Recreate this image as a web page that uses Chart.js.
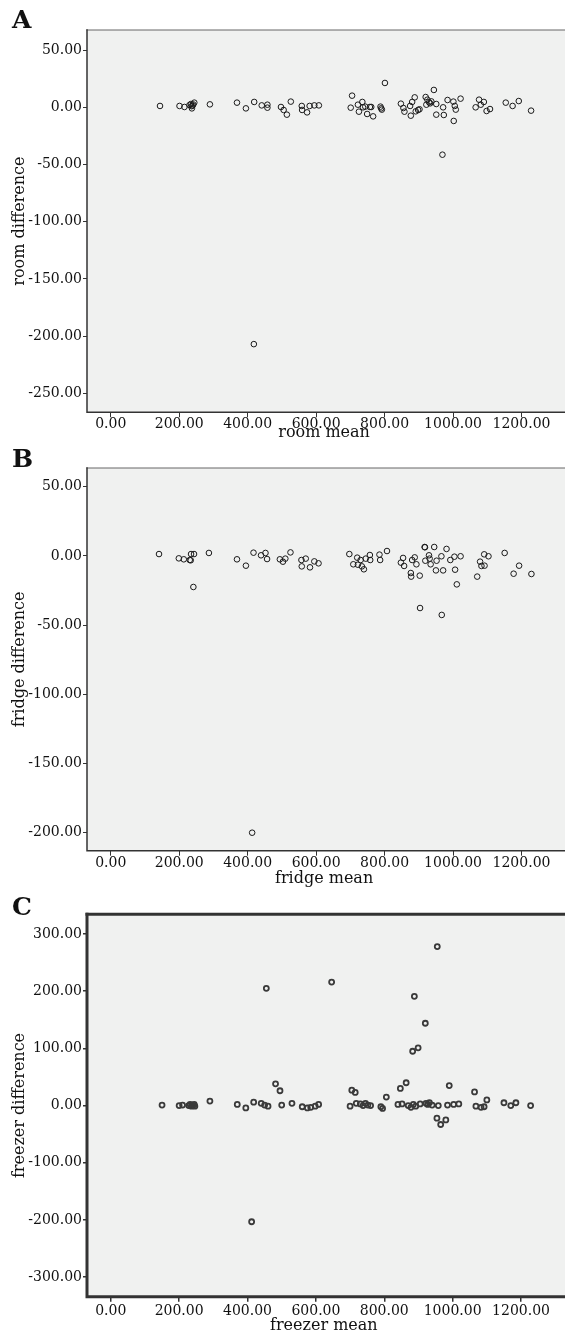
<!DOCTYPE html>
<html><head><meta charset="utf-8">
<script src="https://cdn.jsdelivr.net/npm/chart.js@4.4.1/dist/chart.umd.min.js"></script>
<style>
html,body{margin:0;padding:0;background:#fff;overflow:hidden;width:565px;height:1336px;position:relative;}
canvas{position:absolute;left:0;}
</style></head><body>
<canvas id="cA" width="565" height="442" style="top:0px"></canvas>
<canvas id="cB" width="565" height="446" style="top:442px"></canvas>
<canvas id="cC" width="565" height="447" style="top:888px"></canvas>
<script>
// ---- tick labels ----
const xTicks = [0, 200, 400, 600, 800, 1000, 1200];
const roomYTicks = [50, 0, -50, -100, -150, -200, -250];
const fridgeYTicks = [50, 0, -50, -100, -150, -200];
const freezerYTicks = [300, 200, 100, 0, -100, -200, -300];

// ---- panel A: room ----
const roomMean = [143.8,200.8,215.2,230,234,236,237,239,241,244,289.6,368.7,394.8,418,419,441,457.6,457.6,497.2,505,514.5,526,558,559,573.5,581,594.7,608,701,705,722,725,735,737,743.5,749,757,761,766.5,788,790,792,801,847.6,855,858,874.6,876.6,880.5,888,891,898,902,920,922,925,930,933,936.5,944,951,951,971,973,969,984,1001,1002,1005,1008,1022,1066,1076,1081,1090,1098,1108,1154,1174,1192,1228];
const roomDiff = [1.2,1.2,0.3,2.0,2.9,1.0,-0.9,1.5,2.5,4.1,2.6,4.1,-0.9,-207,4.7,1.7,2.3,-0.3,0.3,-2.3,-6.4,5.0,1.2,-2.3,-4.4,1.2,1.7,1.7,-0.3,10.2,2.3,-3.8,4.7,0,0.6,-5.8,0.3,0.3,-7.9,0.6,-0.9,-2.0,21.3,3.2,-0.6,-3.8,1.2,-7.3,4.7,8.7,-3.5,-2.3,-1.7,9.0,2.3,6.7,4.4,3.5,5.2,15.2,2.9,-6.4,0,-6.7,-41.4,6.4,5.0,-11.9,1.2,-2.0,7.6,0,6.7,2.3,4.7,-3.2,-1.5,4.1,1.2,5.5,-2.9];

// ---- panel B: fridge ----
const fridgeMean = [140.9,198.8,213.3,230.7,233.6,234.5,243.2,241.3,286.7,368.7,394.8,413,417,439,452,456.6,494,503,510,525,557,558,569.6,582,594.7,607,697,708.6,720,722,730,733.7,739.5,745,757,758,785,787,807,847.6,854,857,876.6,877.6,880.5,888,893,902.7,903.6,917,918,919,929.7,931.6,934.5,945,950,951.9,966,967,971,981,992,1004,1006,1011,1022,1070.6,1079,1083,1091,1092,1103.5,1150.8,1177,1193,1229];
const fridgeDiff = [1.4,-1.7,-2.4,-2.9,-3.1,1.4,1.4,-22.4,2.2,-2.4,-7.0,-200,2.4,0.5,2.2,-2.2,-2.4,-4.1,-1.9,2.6,-2.9,-7.5,-1.9,-8.2,-3.9,-5.3,1.4,-6.0,-1.2,-6.3,-2.9,-7.5,-9.6,-1.9,0.7,-2.9,1.0,-2.9,3.6,-4.8,-1.4,-7.2,-12.3,-14.9,-2.9,-1.0,-6.0,-14.2,-37.6,6.5,6.3,-3.4,0.5,-1.9,-6.0,6.5,-10.4,-3.4,-0.2,-42.6,-10.4,5.1,-2.9,-0.5,-9.9,-20.5,-0.2,-14.9,-4.1,-7.2,1.2,-7.0,-0.2,2.2,-12.8,-7.0,-13.0];

// ---- panel C: freezer ----
const freezerMean = [150,200,210,228,232,236,238,240,244,246,290,370,395,412,418,440,450,455,460,482,495,500,530,560,575,585,598,608,646,700,705,715,718,730,738,745,752,760,790,795,806,840,847,852,864,870,878,883,885,888,892,899,905,920,922,927,932,940,954,955,958,965,980,985,990,1003,1018,1064,1068,1083,1092,1100,1150,1170,1185,1228];
const freezerDiff = [1,0,1,0,2,-1,1,0,2,-1,8,2,-4,-203,6,4,1,205,-1,38,26,1,4,-2,-4,-3,-1,2,216,-1,27,23,4,3,0,4,1,0,-2,-5,15,2,30,3,40,0,-3,95,2,191,-1,101,3,144,4,2,5,1,-22,278,0,-33,-25,1,35,2,3,24,-1,-3,-2,10,5,0,5,0];

const SERIF = '"DejaVu Serif", "Liberation Serif", serif';

const decor = {
  id: 'decor',
  beforeDraw(chart, args, o) {
    const {ctx, chartArea: a} = chart;
    ctx.save();
    ctx.fillStyle = o.bg;
    ctx.fillRect(a.left, a.top, a.right - a.left + 5, a.bottom - a.top);
    ctx.restore();
  },
  afterDraw(chart, args, o) {
    const {ctx, chartArea: a} = chart;
    ctx.save();
    ctx.lineCap = 'square';
    ctx.strokeStyle = o.topColor; ctx.lineWidth = o.topWidth;
    ctx.beginPath(); ctx.moveTo(a.left, a.top); ctx.lineTo(a.right + 10, a.top); ctx.stroke();
    ctx.strokeStyle = o.axisColor; ctx.lineWidth = o.axisWidth;
    ctx.beginPath(); ctx.moveTo(a.left, a.top); ctx.lineTo(a.left, a.bottom); ctx.lineTo(a.right + 10, a.bottom); ctx.stroke();
    ctx.fillStyle = '#111';
    ctx.font = 'bold 25px ' + SERIF;
    ctx.textAlign = 'left'; ctx.textBaseline = 'alphabetic';
    ctx.fillText(o.letter, 12, o.letterY);
    ctx.restore();
  }
};

function makeChart(id, xs, ys, yTicks, cfg) {
  const pts = xs.map((x, i) => ({x: x, y: ys[i]}));
  return new Chart(document.getElementById(id), {
    type: 'scatter',
    data: { datasets: [{
      data: pts,
      pointStyle: 'circle',
      pointRadius: cfg.r,
      pointHoverRadius: cfg.r,
      borderWidth: cfg.bw,
      borderColor: cfg.pc,
      backgroundColor: 'rgba(0,0,0,0)'
    }]},
    options: {
      responsive: false,
      animation: false,
      devicePixelRatio: 1,
      layout: { padding: { top: cfg.padTop, left: 0, right: 0, bottom: 0 } },
      plugins: {
        legend: { display: false },
        tooltip: { enabled: false },
        decor: { bg: '#f0f1f0', letter: cfg.letter, letterY: cfg.letterY,
                 topColor: cfg.topColor, topWidth: cfg.topWidth,
                 axisColor: cfg.axisColor, axisWidth: cfg.axisWidth }
      },
      scales: {
        x: {
          type: 'linear', min: -69.5, max: 1316,
          afterBuildTicks: s => { s.ticks = xTicks.map(v => ({value: v})); },
          afterFit: s => { s.height = cfg.xH; },
          ticks: { font: {family: SERIF, size: 14}, color: '#111', padding: cfg.xPad,
                   maxRotation: 0, autoSkip: false, callback: v => Number(v).toFixed(2) },
          grid: { display: true, drawOnChartArea: false, drawTicks: true, tickLength: 5,
                  color: cfg.tickColor, lineWidth: cfg.tickW },
          border: { display: false },
          title: { display: true, text: cfg.xTitle, font: {family: SERIF, size: 16}, color: '#111',
                   padding: {top: 0, bottom: 0} }
        },
        y: {
          type: 'linear', min: cfg.yMin, max: cfg.yMax,
          afterBuildTicks: s => { s.ticks = yTicks.map(v => ({value: v})); },
          afterFit: s => { s.width = 87; },
          ticks: { font: {family: SERIF, size: 14}, color: '#111', padding: 1,
                   autoSkip: false, callback: v => Number(v).toFixed(2) },
          grid: { display: true, drawOnChartArea: false, drawTicks: true, tickLength: 4,
                  color: cfg.tickColor, lineWidth: cfg.tickW },
          border: { display: false },
          title: { display: true, text: cfg.yTitle, font: {family: SERIF, size: 16}, color: '#111',
                   padding: {top: 10.4, bottom: 0} }
        }
      }
    },
    plugins: [decor]
  });
}

makeChart('cA', roomMean, roomDiff, roomYTicks, {
  letter: 'A', letterY: 28, padTop: 30, xH: 29.7, xPad: -1.5,
  yMin: -266.6, yMax: 67.6, xTitle: 'room mean', yTitle: 'room difference',
  r: 2.8, bw: 1, pc: '#1a1a1a', tickColor: '#333', tickW: 1,
  topColor: '#666', topWidth: 1, axisColor: '#333', axisWidth: 1.5
});
makeChart('cB', fridgeMean, fridgeDiff, fridgeYTicks, {
  letter: 'B', letterY: 25, padTop: 26, xH: 37.3, xPad: -1,
  yMin: -213, yMax: 63.6, xTitle: 'fridge mean', yTitle: 'fridge difference',
  r: 2.8, bw: 1, pc: '#1a1a1a', tickColor: '#333', tickW: 1,
  topColor: '#666', topWidth: 1, axisColor: '#333', axisWidth: 1.5
});
makeChart('cC', freezerMean, freezerDiff, freezerYTicks, {
  letter: 'C', letterY: 27, padTop: 26.3, xH: 38.3, xPad: 0.9,
  yMin: -334, yMax: 334.4, xTitle: 'freezer mean', yTitle: 'freezer difference',
  r: 2.5, bw: 1.8, pc: '#3a3a3a', tickColor: '#333', tickW: 1.5,
  topColor: '#333', topWidth: 3, axisColor: '#333', axisWidth: 3
});
</script>
</body></html>
